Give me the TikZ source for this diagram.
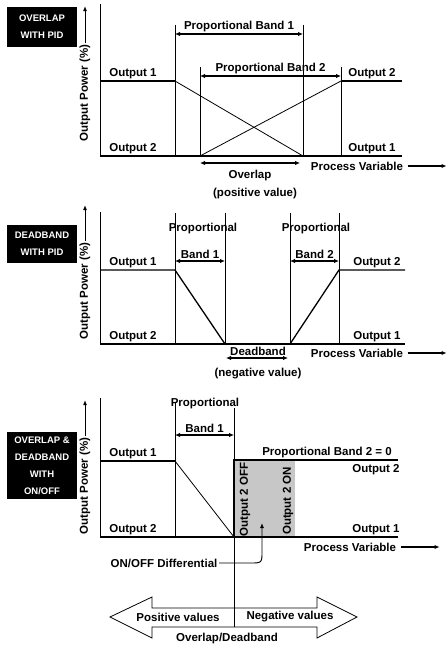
\documentclass[tikz,border=0pt]{standalone}
\usepackage{fontspec}
\setmainfont{Liberation Sans}
\usetikzlibrary{arrows.meta,positioning}

\begin{document}
\begin{tikzpicture}[x=1pt,y=-1pt,
    lbl/.style={font=\fontsize{11.5}{13}\selectfont\bfseries, inner sep=1.5pt},
    boxlbl/.style={fill=black, text=white, font=\fontsize{9.5}{17}\selectfont\bfseries,
      align=center, minimum width=70pt, inner sep=0pt},
    axisline/.style={line width=0.8pt},
    level/.style={line width=1.3pt},
    band/.style={{Latex[length=5pt,width=4.5pt]}-{Latex[length=5pt,width=4.5pt]}, line width=1.3pt},
    uparrow/.style={-{Latex[length=5pt,width=4pt]}, line width=1pt},
    pvarrow/.style={-{Latex[length=5pt,width=4pt]}, line width=1.1pt, shorten <=3pt}]
  \useasboundingbox (0,0) rectangle (445,647);

  % overlap with PID
  \node[boxlbl, minimum height=40pt] (box1) at (42,27) {OVERLAP\\WITH PID};
  \node[lbl, rotate=90] (ylab1) at (85,93) {Output Power (\%)};
  \draw[uparrow] (ylab1.east) -- ++(0,-37);
  \draw[axisline] (100,4) -- (100,156);
  \draw[level] (100,156) -- (402,156);
  \draw[level] (100,81) -- (175,81);
  \draw[axisline] (175,81) -- (303,156);
  \draw[axisline] (200,156) -- (341,81);
  \draw[level] (341,81) -- (402,81);
  \foreach \x/\t in {175/25,200/67,303/25,341/67}
    \draw[axisline] (\x,\t) -- (\x,156);
  \draw[band] (175,34) -- node[lbl, above] (pb1) {Proportional Band 1} (303,34);
  \draw[band] (200,76) -- node[lbl, above] (pb2) {Proportional Band 2} (341,76);
  \draw[band] (200,163) -- (300,163);
  \node[lbl] (ovl) at (250,176) {Overlap};
  \node[lbl] (posv) at (255,194) {(positive value)};
  \node[lbl, above] (out1a) at (133,81) {Output 1};
  \node[lbl, above] (out2a) at (133,156) {Output 2};
  \node[lbl, above] (out2b) at (372,81) {Output 2};
  \node[lbl, above] (out1b) at (372,156) {Output 1};
  \node[lbl] (pv1) at (357,166) {Process Variable};
  \draw[pvarrow] (pv1.east) -- ++(42,0);

  % deadband with PID
  \node[boxlbl, minimum height=38pt] (box2) at (42,244) {DEADBAND\\WITH PID};
  \node[lbl, rotate=90] (ylab2) at (85,291) {Output Power (\%)};
  \draw[uparrow] (ylab2.east) -- ++(0,-36);
  \draw[axisline] (100,212) -- (100,344);
  \draw[level] (100,344) -- (405,344);
  \draw[level] (100,270) -- (175,270) -- (225,344);
  \draw[level] (290,344) -- (339,270) -- (405,270);
  \foreach \x in {175,225,290,339}
    \draw[axisline] (\x,213) -- (\x,344);
  \node[lbl] (prop1) at (203,229) {Proportional};
  \draw[band] (175,261) -- node[lbl, above] (band1) {Band 1} (225,261);
  \node[lbl] (prop2) at (316,229) {Proportional};
  \draw[band] (290,261) -- node[lbl, above] (band2) {Band 2} (339,261);
  \node[lbl] (dead) at (258,351) {Deadband};
  \draw[band] (226,358) -- (288,358);
  \node[lbl] (negv) at (258,374) {(negative value)};
  \node[lbl, above] (out1c) at (133,270) {Output 1};
  \node[lbl, above] (out2c) at (133,344) {Output 2};
  \node[lbl, above] (out2d) at (377,270) {Output 2};
  \node[lbl, above] (out1d) at (377,344) {Output 1};
  \node[lbl] (pv2) at (357,353) {Process Variable};
  \draw[pvarrow] (pv2.east) -- ++(42,0);

  % overlap & deadband with on/off
  \node[boxlbl, minimum height=67pt] (box3) at (42,465.5) {OVERLAP \&\\DEADBAND\\WITH\\ON/OFF};
  \node[lbl, rotate=90] (ylab3) at (85,486) {Output Power (\%)};
  \draw[uparrow] (ylab3.east) -- ++(0,-36);
  \fill[black!22] (234,460) rectangle (295,537);
  \draw[axisline] (100,398) -- (100,537);
  \draw[level] (100,537) -- (398,537);
  \draw[level] (100,461) -- (175,461);
  \draw[axisline] (175,461) -- (234,537);
  \draw[level] (234,537) -- (234,460) -- (398,460);
  \draw[axisline] (175,403) -- (175,537);
  \node[lbl] (prop3) at (205,404) {Proportional};
  \draw[band] (175,435) -- node[lbl, above] (band3) {Band 1} (234,435);
  \node[lbl] (pbzero) at (327,453) {Proportional Band 2 = 0};
  \node[lbl, above] (out1e) at (133,461) {Output 1};
  \node[lbl, above] (out2e) at (133,537) {Output 2};
  \node[lbl] (out2f) at (376,470) {Output 2};
  \node[lbl, above] (out1f) at (376,537) {Output 1};
  \node[lbl, rotate=90, anchor=west] (off2) at (245,538) {Output 2 OFF};
  \node[lbl, rotate=90] (on2) at (288,501) {Output 2 ON};
  \node[lbl] (diff) at (164,563) {ON/OFF Differential};
  \draw[uparrow, line width=0.9pt] (diff.east) -- (250,563) .. controls (262,563) .. (262,551) -- (262,523);
  \node[lbl] (pv3) at (350,547) {Process Variable};
  \draw[pvarrow] (pv3.east) -- ++(42,0);

  % overlap/deadband scale
  \draw[axisline, fill=white] (110,617) -- (152,597) -- (152,608) -- (317,608) -- (317,597)
    -- (357,617) -- (317,638) -- (317,627) -- (152,627) -- (152,638) -- cycle;
  \draw[axisline] (234,408) -- (234,627);
  \node[lbl] (posval) at (178,617) {Positive values};
  \node[lbl] (negval) at (290,617) {Negative values};
  \node[lbl] (olddb) at (227,639) {Overlap/Deadband};
\end{tikzpicture}
\end{document}
